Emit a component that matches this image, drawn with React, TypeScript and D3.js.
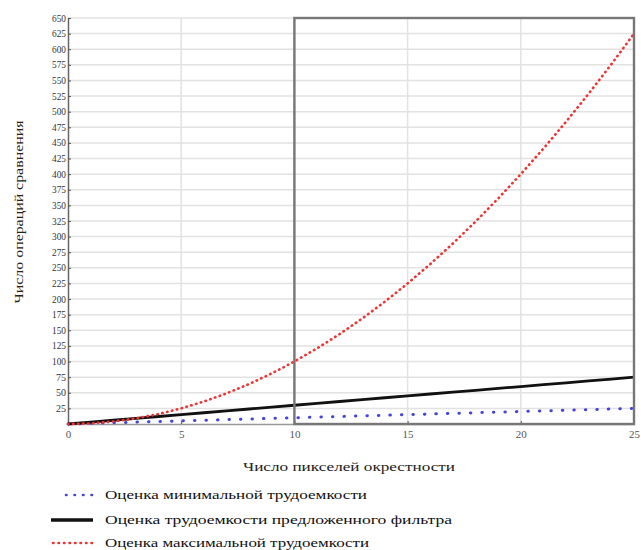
import React, { useEffect, useRef } from 'react'
import * as d3 from 'd3'

// число пикселей окрестности
const pixels = [0, 1, 2, 3, 4, 5, 6, 7, 8, 9, 10, 11, 12, 13, 14, 15, 16, 17, 18, 19, 20, 21, 22, 23, 24, 25]
const minCost = [0, 1, 2, 3, 4, 5, 6, 7, 8, 9, 10, 11, 12, 13, 14, 15, 16, 17, 18, 19, 20, 21, 22, 23, 24, 25]
const filterCost = [0, 3, 6, 9, 12, 15, 18, 21, 24, 27, 30, 33, 36, 39, 42, 45, 48, 51, 54, 57, 60, 63, 66, 69, 72, 75]
const maxCost = [0, 1, 4, 9, 16, 25, 36, 49, 64, 81, 100, 121, 144, 169, 196, 225, 256, 289, 324, 361, 400, 441, 484, 529, 576, 625]

const xTicks = [0, 5, 10, 15, 20, 25]
const yTicks = d3.range(0, 651, 25)
const zoomFrom = 10

const legendItems = [
  { label: 'Оценка минимальной трудоемкости', color: '#4444dd', len: 262 },
  { label: 'Оценка трудоемкости предложенного фильтра', color: '#111', len: 347 },
  { label: 'Оценка максимальной трудоемкости', color: '#ee3333', len: 264 },
]

const font = '"Liberation Serif", "DejaVu Serif", serif'

export default function App() {
  const ref = useRef<SVGSVGElement>(null)

  useEffect(() => {
    const svg = d3.select(ref.current)
    svg.selectAll('*').remove()

    const x = d3.scaleLinear().domain([0, 25]).range([68, 634])
    const y = d3.scaleLinear().domain([0, 650]).range([424, 18])

    // сетка
    svg
      .append('g')
      .selectAll('line')
      .data(yTicks.slice(1))
      .join('line')
      .attr('x1', x(0))
      .attr('x2', x(25))
      .attr('y1', d => y(d))
      .attr('y2', d => y(d))
      .attr('stroke', '#e2e2e2')
      .attr('stroke-width', 1.5)

    svg
      .append('g')
      .selectAll('line')
      .data(xTicks.slice(1, -1))
      .join('line')
      .attr('x1', d => x(d))
      .attr('x2', d => x(d))
      .attr('y1', y(0))
      .attr('y2', y(650))
      .attr('stroke', '#e2e2e2')
      .attr('stroke-width', 1.5)

    // оси
    const yAxis = svg
      .append('g')
      .attr('transform', `translate(${x(0)},0)`)
      .call(d3.axisLeft(y).tickValues(yTicks).tickSize(-3).tickPadding(2).tickSizeOuter(0))
    yAxis.select('.domain').attr('stroke', '#666').attr('stroke-width', 1.5)
    yAxis.selectAll('.tick line').attr('stroke', '#555')
    yAxis
      .selectAll('.tick text')
      .attr('fill', '#333')
      .style('font', `9.5px ${font}`)
      .attr('textLength', (d: any) => (d < 100 ? 10 : 14))
      .attr('lengthAdjust', 'spacingAndGlyphs')
      .filter((d: any) => d === 0)
      .remove()

    const xAxis = svg
      .append('g')
      .attr('transform', `translate(0,${y(0)})`)
      .call(d3.axisBottom(x).tickValues(xTicks).tickSize(-3).tickPadding(6).tickSizeOuter(0))
    xAxis.select('.domain').attr('stroke', '#999').attr('stroke-width', 1.5)
    xAxis.selectAll('.tick line').attr('stroke', '#555')
    xAxis.selectAll('.tick text').attr('fill', '#555').style('font', `11px ${font}`)

    // линии
    const line = (vals: number[]) =>
      d3
        .line<number>()
        .x((d, i) => x(pixels[i]))
        .y(d => y(d))(vals)

    svg
      .append('path')
      .attr('d', line(minCost))
      .attr('fill', 'none')
      .attr('stroke', legendItems[0].color)
      .attr('stroke-width', 3)
      .attr('stroke-linecap', 'round')
      .attr('stroke-dasharray', '0.5,11')

    svg
      .append('path')
      .attr('d', line(filterCost))
      .attr('fill', 'none')
      .attr('stroke', legendItems[1].color)
      .attr('stroke-width', 2.8)

    svg
      .append('path')
      .attr('d', line(maxCost))
      .attr('fill', 'none')
      .attr('stroke', legendItems[2].color)
      .attr('stroke-width', 2.6)
      .attr('stroke-linecap', 'round')
      .attr('stroke-dasharray', '0.5,4.5')

    // рамка выделения
    svg
      .append('rect')
      .attr('x', x(zoomFrom))
      .attr('y', y(650))
      .attr('width', x(25) - x(zoomFrom))
      .attr('height', y(0) - y(650))
      .attr('fill', 'none')
      .attr('stroke', '#777')
      .attr('stroke-width', 2.4)

    // подписи осей
    svg
      .append('text')
      .attr('transform', `translate(23,${212}) rotate(-90)`)
      .attr('text-anchor', 'middle')
      .attr('fill', '#222')
      .attr('textLength', 183)
      .attr('lengthAdjust', 'spacingAndGlyphs')
      .style('font-family', font)
      .style('font-size', '12px')
      .text('Число операций сравнения')

    svg
      .append('text')
      .attr('x', 349)
      .attr('y', 471)
      .attr('text-anchor', 'middle')
      .attr('fill', '#222')
      .attr('textLength', 212)
      .attr('lengthAdjust', 'spacingAndGlyphs')
      .style('font-family', font)
      .style('font-size', '12px')
      .text('Число пикселей окрестности')

    // легенда
    const legend = svg
      .append('g')
      .selectAll('g')
      .data(legendItems)
      .join('g')
      .attr('transform', (d, i) => `translate(0,${[495, 520, 543][i]})`)

    legend
      .append('line')
      .attr('x1', (d, i) => [66, 51, 53][i])
      .attr('x2', (d, i) => [100, 93, 96][i])
      .attr('stroke', d => d.color)
      .attr('stroke-width', (d, i) => (i === 1 ? 3.5 : 2.6))
      .attr('stroke-linecap', (d, i) => (i === 1 ? 'butt' : 'round'))
      .attr('stroke-dasharray', (d, i) => (i === 0 ? '0.5,8' : i === 2 ? '0.5,5' : null))

    legend
      .append('text')
      .attr('x', 105)
      .attr('y', 4)
      .attr('fill', '#111')
      .attr('textLength', d => d.len)
      .attr('lengthAdjust', 'spacingAndGlyphs')
      .style('font-family', font)
      .style('font-size', '12.5px')
      .text(d => d.label)
  }, [])

  return (
    <svg
      ref={ref}
      width={641}
      height={550}
      style={{ display: 'block', position: 'absolute', left: 0, top: 0 }}
    />
  )
}
